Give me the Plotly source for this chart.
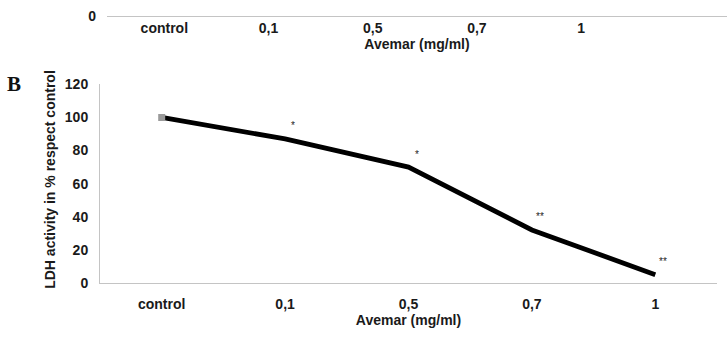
import plotly.graph_objects as go

# ---- data ----
categories = ["control", "0,1", "0,5", "0,7", "1"]
ldh_activity = [100, 87, 70, 32, 5]
significance = ["", "*", "*", "**", "**"]
y_ticks = [0, 20, 40, 60, 80, 100, 120]
panel_a_ticks = ["control", "0,1", "0,5", "0,7", "1"]

W, H = 727, 352
FONT = "Liberation Sans, Arial, sans-serif"
TXT = "#1a1a1a"
AX = "#c4c4c4"

def px_x(p):
    return p / W

def px_y(p):
    return 1 - p / H

fig = go.Figure()

# Panel B line
fig.add_trace(go.Scatter(
    x=categories, y=ldh_activity, mode="lines",
    line=dict(color="black", width=4.8),
    xaxis="x", yaxis="y", showlegend=False, hoverinfo="skip"))
# grey start marker
fig.add_trace(go.Scatter(
    x=categories[:1], y=ldh_activity[:1], mode="markers",
    marker=dict(symbol="square", color="#9a9a9a", size=7, line=dict(width=0)),
    xaxis="x", yaxis="y", showlegend=False, hoverinfo="skip"))

# Panel A remnant axis (no data visible)
fig.add_trace(go.Scatter(
    x=list(range(len(panel_a_ticks))), y=[None] * len(panel_a_ticks),
    mode="lines", xaxis="x2", yaxis="y2", showlegend=False, hoverinfo="skip"))

annotations = []
for i, (v, s) in enumerate(zip(ldh_activity, significance)):
    if s:
        annotations.append(dict(
            x=i, y=v, xref="x", yref="y", text=s, showarrow=False,
            xanchor="center", yanchor="middle",
            xshift=8, yshift=13, font=dict(family=FONT, size=10, color="#222222")))

annotations.append(dict(
    x=px_x(50), y=px_y(180), xref="paper", yref="paper",
    xanchor="center", yanchor="middle",
    text="<b>LDH activity in % respect control</b>", textangle=-90, showarrow=False,
    font=dict(family=FONT, size=14, color=TXT)))
annotations.append(dict(
    x=px_x(14), y=px_y(80), xref="paper", yref="paper", text="<b>B</b>",
    xanchor="center", yanchor="middle",
    showarrow=False, font=dict(family="Liberation Serif, Times New Roman, serif", size=21, color="#111")))

fig.update_layout(
    width=W, height=H,
    margin=dict(l=0, r=0, t=0, b=0),
    paper_bgcolor="white", plot_bgcolor="white",
    font=dict(family=FONT, color=TXT),
    showlegend=False,
    annotations=annotations,
    xaxis=dict(
        domain=[px_x(100), px_x(717)], anchor="y",
        type="category", range=[-0.5, 4.5],
        tickmode="array", tickvals=categories,
        ticktext=[f"<b>{c}</b>" for c in categories],
        showline=True, linecolor=AX, linewidth=1,
        showgrid=False, zeroline=False, ticks="",
        tickfont=dict(family=FONT, size=14, color=TXT),
        title=dict(text="<b>Avemar (mg/ml)</b>", font=dict(family=FONT, size=14, color=TXT), standoff=4),
        ticklabelstandoff=8,
    ),
    yaxis=dict(
        domain=[px_y(288), px_y(80)], anchor="x",
        range=[0, 120], tickvals=y_ticks,
        ticktext=[f"<b>{t}</b>" for t in y_ticks],
        showline=True, linecolor=AX, linewidth=1,
        showgrid=False, zeroline=False, ticks="",
        tickfont=dict(family=FONT, size=14, color=TXT),
        ticklabelstandoff=8,
    ),
    xaxis2=dict(
        domain=[px_x(107), 1.0], anchor="y2",
        range=[-0.55, 5.4],
        tickmode="array", tickvals=list(range(len(panel_a_ticks))),
        ticktext=[f"<b>{t}</b>" for t in panel_a_ticks],
        showline=True, linecolor=AX, linewidth=1,
        showgrid=False, zeroline=False, ticks="",
        tickfont=dict(family=FONT, size=14, color=TXT),
        title=dict(text="<b>Avemar (mg/ml)</b>", font=dict(family=FONT, size=14, color=TXT), standoff=2),
    ),
    yaxis2=dict(
        domain=[px_y(8), 1.0], anchor="x2",
        range=[0, 10], tickvals=[0], ticktext=["<b>0</b>"],
        showline=False, showgrid=False, zeroline=False, ticks="",
        tickfont=dict(family=FONT, size=14, color=TXT),
        ticklabelstandoff=10,
    ),
)

fig.write_html("out.html")
